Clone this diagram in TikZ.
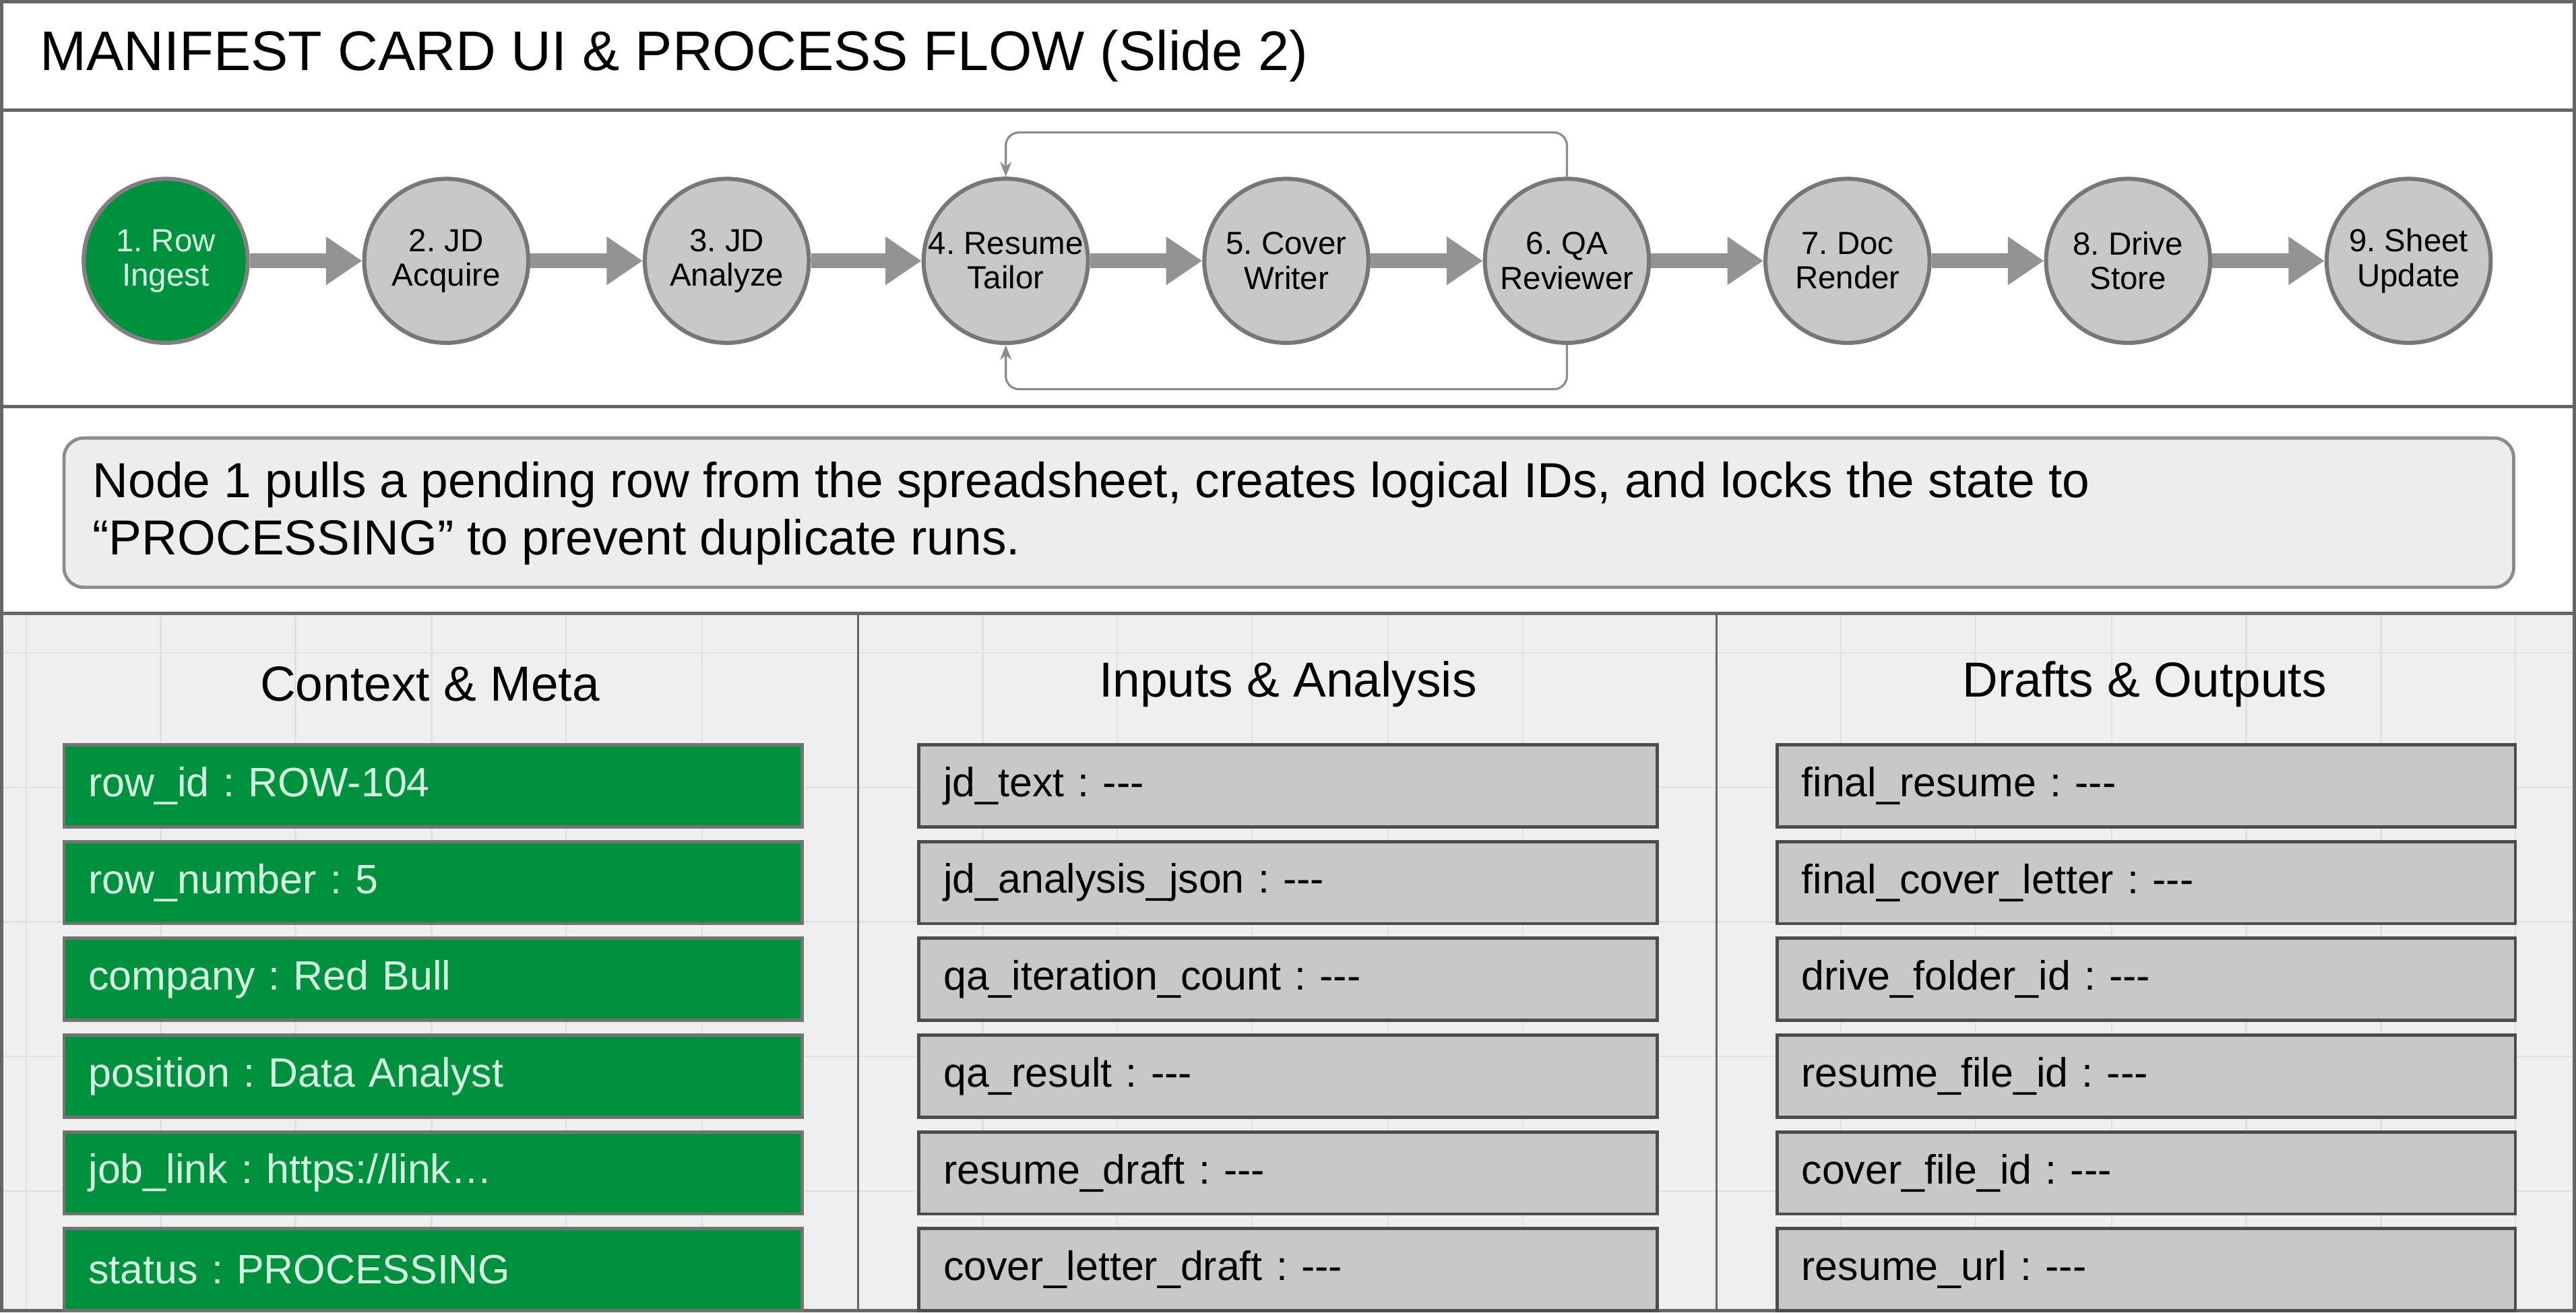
\documentclass[tikz,border=0pt]{standalone}
\usepackage{fontspec}
\setmainfont{Liberation Sans}
\usetikzlibrary{arrows.meta}
\definecolor{okgreen}{HTML}{00913F}
\definecolor{paleg}{HTML}{D4F7E2}
\definecolor{stepgray}{HTML}{C8C8C8}
\definecolor{edgegray}{HTML}{777777}
\definecolor{bggray}{HTML}{EFEFEF}
\frenchspacing
\newcommand{\nil}{{-}{-}{-}}
\begin{document}
\begin{tikzpicture}[x=1pt, y=-1pt]
		\tikzset{stage/.style={circle, draw=edgegray, line width=2.5pt, fill=stepgray, minimum size=100pt, inner sep=0pt, align=center, font=\fontsize{19.5}{21}\selectfont},
			flow/.style={draw=gray!85, line width=9pt, -{Triangle[length=22pt, width=28pt]}},
			loop/.style={draw=gray!90, line width=1.3pt, rounded corners=8pt, -{Stealth[length=9pt, width=7pt]}},
			fld/.style={draw=black!70, line width=2pt, fill=stepgray, minimum width=450pt, minimum height=50pt, inner sep=0pt, anchor=north west, font=\fontsize{25}{27}\selectfont, text width=420pt},
			gfld/.style={fld, fill=okgreen, draw=black!55, text=paleg},
			hdr/.style={font=\fontsize{30}{32}\selectfont}};

		% frame and bands
		\fill[bggray] (0,373) rectangle (1568,798);
		\foreach \gx in {15,97,179,262,344,427,598,680,762,845,927,1121,1203,1286,1368,1450,1532}
			\draw[black!12, line width=1pt] (\gx,373) -- (\gx,798);
		\foreach \gy in {397,479,561,643,725}
			\draw[black!12, line width=1pt] (0,\gy) -- (1568,\gy);
		\draw[black!60, line width=2pt] (0,0) rectangle (1568,798);
		\draw[black!60, line width=2pt] (0,66) -- (1568,66);
		\draw[black!60, line width=2pt] (0,247) -- (1568,247);
		\draw[black!60, line width=2pt] (0,373) -- (1568,373);
		\draw[black!60, line width=1.2pt] (522,373) -- (522,798);
		\draw[black!60, line width=1.2pt] (1045,373) -- (1045,798);

		\node[anchor=west, font=\fontsize{34}{36}\selectfont] (title) at (20,33) {MANIFEST CARD UI \& PROCESS FLOW (Slide 2)};

		% process flow
		\node[stage, fill=okgreen, draw=black!50, text=paleg] (s1) at (100,158) {1. Row\\Ingest};
		\node[stage] (s2) at (271,158) {2. JD\\Acquire};
		\node[stage] (s3) at (442,158) {3. JD\\Analyze};
		\node[stage] (s4) at (612,158) {4. Resume\\Tailor};
		\node[stage] (s5) at (783,158) {5. Cover\\Writer};
		\node[stage] (s6) at (954,158) {6. QA\\Reviewer};
		\node[stage] (s7) at (1125,158) {7. Doc\\Render};
		\node[stage] (s8) at (1296,158) {8. Drive\\Store};
		\node[stage] (s9) at (1467,158) {9. Sheet\\Update};

		\foreach \a/\b in {s1/s2, s2/s3, s3/s4, s4/s5, s5/s6, s6/s7, s7/s8, s8/s9}
			\draw[flow] (\a) -- (\b);

		\draw[loop] (s6.north) -- ++(0,-27) -| (s4.north);
		\draw[loop] (s6.south) -- ++(0,27) -| (s4.south);

		% explanation
		\node[draw=black!45, line width=2pt, fill=black!7, rounded corners=12pt, minimum width=1493pt, minimum height=91pt, anchor=north west, inner sep=0pt] (note) at (37,265) {};
		\node[anchor=west, align=left, font=\fontsize{30}{35}\selectfont] (notetxt) at (52,312) {Node 1 pulls a pending row from the spreadsheet, creates logical IDs, and locks the state to\\``PROCESSING'' to prevent duplicate runs.};

		% manifest columns
		\node[hdr] (h1) at (261,416) {Context \& Meta};
		\node[hdr] (h2) at (784,416) {Inputs \& Analysis};
		\node[hdr] (h3) at (1306,416) {Drafts \& Outputs};

		\foreach \t [count=\i] in {row\_id : ROW-104, row\_number : 5, company : Red Bull, position : Data Analyst, job\_link : https://link\dots, status : PROCESSING}
			\node[gfld] (c\i) at (37,{452+59*(\i-1)}) {\t};
		\foreach \t [count=\i] in {jd\_text : \nil, jd\_analysis\_json : \nil, qa\_iteration\_count : \nil, qa\_result : \nil, resume\_draft : \nil, cover\_letter\_draft : \nil}
			\node[fld] (i\i) at (558,{452+59*(\i-1)}) {\t};
		\foreach \t [count=\i] in {final\_resume : \nil, final\_cover\_letter : \nil, drive\_folder\_id : \nil, resume\_file\_id : \nil, cover\_file\_id : \nil, resume\_url : \nil}
			\node[fld] (o\i) at (1081,{452+59*(\i-1)}) {\t};
\end{tikzpicture}
\end{document}
